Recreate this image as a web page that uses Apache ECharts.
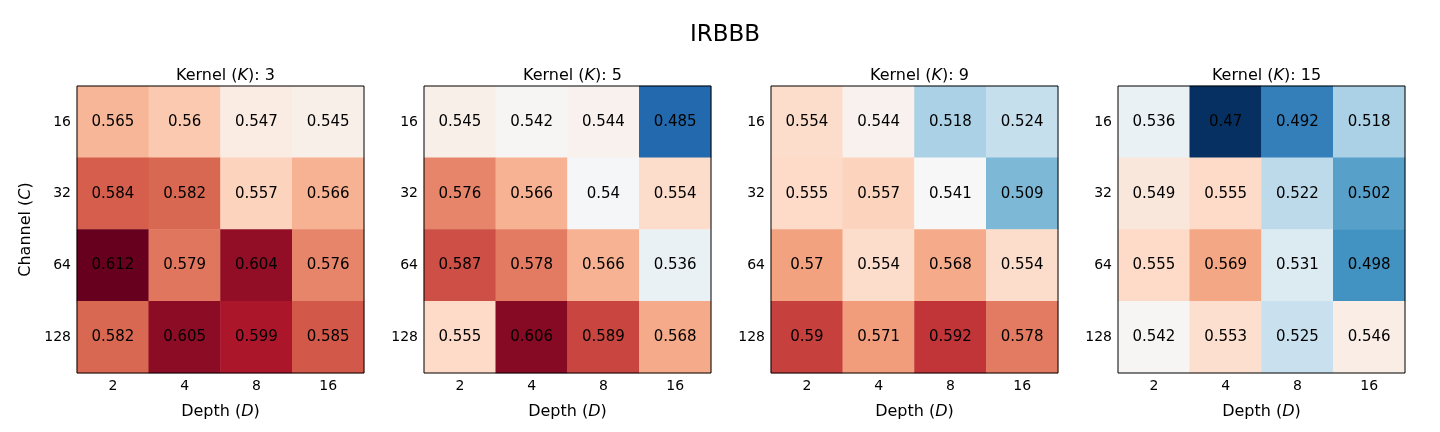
<!DOCTYPE html>
<html><head><meta charset="utf-8">
<script src="https://cdn.jsdelivr.net/npm/echarts@6/dist/echarts.min.js"></script>
<style>html,body{margin:0;padding:0;background:#fff}#c{width:1440px;height:432px}</style>
</head><body><div id="c"></div>
<script>
const depths = ['2', '4', '8', '16'];
const channels = ['16', '32', '64', '128'];
const kernels = ['3', '5', '9', '15'];
const k3 = [[0.565,0.56,0.547,0.545],[0.584,0.582,0.557,0.566],[0.612,0.579,0.604,0.576],[0.582,0.605,0.599,0.585]];
const k5 = [[0.545,0.542,0.544,0.485],[0.576,0.566,0.54,0.554],[0.587,0.578,0.566,0.536],[0.555,0.606,0.589,0.568]];
const k9 = [[0.554,0.544,0.518,0.524],[0.555,0.557,0.541,0.509],[0.57,0.554,0.568,0.554],[0.59,0.571,0.592,0.578]];
const k15 = [[0.536,0.47,0.492,0.518],[0.549,0.555,0.522,0.502],[0.555,0.569,0.531,0.498],[0.542,0.553,0.525,0.546]];
const panels = [k3, k5, k9, k15];
const vMin = 0.47, vMax = 0.612;
const rdbuR = ['#053061','#2166ac','#4393c3','#92c5de','#d1e5f0','#f7f7f7','#fddbc7','#f4a582','#d6604d','#b2182b','#67001f'];

const FONT = 'DejaVu Sans';
const lefts = [77, 424, 771, 1118];
const W = 287, TOP = 86, H = 287;
const grids = [], xAxes = [], yAxes = [], series = [], titles = [];
const richName = {n: {fontFamily: FONT, fontSize: 16, fontWeight: 'normal', color: '#000'},
                  i: {fontFamily: FONT, fontSize: 16, fontWeight: 'normal', fontStyle: 'italic', color: '#000'}};
titles.push({text: 'IRBBB', left: 720, top: 19, textAlign: 'center',
  textStyle: {fontFamily: FONT, fontSize: 23, fontWeight: 'normal', color: '#000'}});
panels.forEach((m, i) => {
  grids.push({left: lefts[i], top: TOP, width: W, height: H, show: true, z: 10,
    backgroundColor: 'transparent', borderColor: '#000', borderWidth: 1});
  titles.push({text: '{n|Kernel (}{i|K}{n|): ' + kernels[i] + '}', left: lefts[i] + W / 2, top: 63, textAlign: 'center',
    textStyle: {fontFamily: FONT, fontSize: 16, fontWeight: 'normal', color: '#000', rich: richName}});
  xAxes.push({type: 'category', gridIndex: i, data: depths, position: 'bottom',
    axisLine: {show: false}, axisTick: {alignWithLabel: true, length: 4, lineStyle: {color: '#000'}},
    axisLabel: {fontFamily: FONT, fontSize: 14, color: '#000', margin: 6},
    splitLine: {show: false},
    name: '{n|Depth (}{i|D}{n|)}', nameLocation: 'middle', nameGap: 31,
    nameTextStyle: {fontFamily: FONT, fontSize: 16, color: '#000', rich: richName}});
  const ya = {type: 'category', gridIndex: i, data: channels, inverse: true,
    axisLine: {show: false}, axisTick: {alignWithLabel: true, length: 4, lineStyle: {color: '#000'}},
    axisLabel: {fontFamily: FONT, fontSize: 14, color: '#000', margin: 6},
    splitLine: {show: false}};
  if (i === 0) {
    Object.assign(ya, {name: '{n|Channel (}{i|C}{n|)}', nameLocation: 'middle', nameGap: 43, nameRotate: 90,
      nameTextStyle: {fontFamily: FONT, fontSize: 16, color: '#000', rich: richName}});
  }
  yAxes.push(ya);
  const data = [];
  m.forEach((row, r) => row.forEach((v, c) => data.push([c, r, v])));
  series.push({type: 'heatmap', xAxisIndex: i, yAxisIndex: i, data: data,
    label: {show: true, color: '#000', fontFamily: FONT, fontSize: 15, formatter: p => String(p.value[2])},
    emphasis: {disabled: true}, itemStyle: {borderWidth: 0}});
});
const chart = echarts.init(document.getElementById('c'), null, {renderer: 'canvas'});
chart.setOption({
  animation: false,
  backgroundColor: '#fff',
  title: titles,
  grid: grids, xAxis: xAxes, yAxis: yAxes,
  visualMap: {show: false, type: 'continuous', min: vMin, max: vMax, dimension: 2,
    seriesIndex: [0, 1, 2, 3], inRange: {color: rdbuR}},
  series: series
});
</script></body></html>
